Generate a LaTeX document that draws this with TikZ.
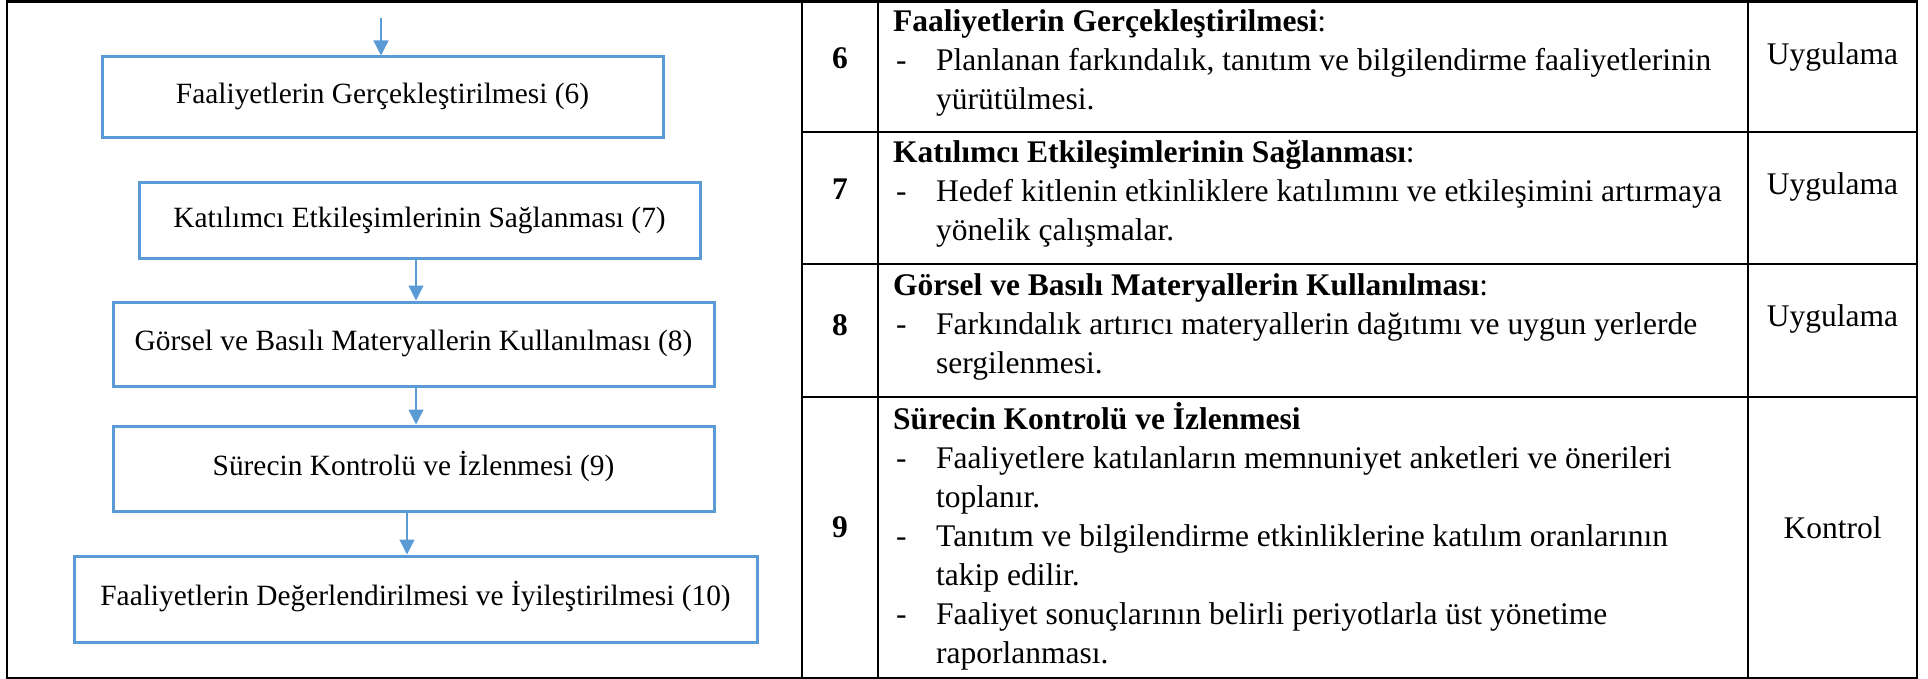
\documentclass[tikz,border=0pt]{standalone}
\usepackage{fontspec}
\setmainfont{Liberation Serif}
\usetikzlibrary{arrows.meta}
\definecolor{boxblue}{RGB}{91,155,213}
\begin{document}
\begin{tikzpicture}[x=1pt,y=-1pt,
  fbox/.style={draw=boxblue, line width=3pt, inner sep=0pt, font=\fontsize{29.4}{34}\selectfont, text height=20pt, text depth=7pt},
  arr/.style={draw=boxblue, line width=1.4pt, -{Triangle[length=15pt,width=15pt]}},
  grid/.style={line width=2.6pt, draw=black},
  tx/.style={anchor=base west, inner sep=0pt, font=\fontsize{31.5}{39}\selectfont},
  num/.style={anchor=base, inner sep=0pt, font=\fontsize{31.5}{39}\selectfont\bfseries},
  typ/.style={anchor=base, inner sep=0pt, font=\fontsize{31.5}{39}\selectfont},
]
\useasboundingbox (0,0) rectangle (1928,679);

% ---------- table frame ----------
\draw[grid] (7,1.3) rectangle (1917,678);
\draw[grid] (802,1.3) -- (802,678);
\draw[grid] (878,1.3) -- (878,678);
\draw[grid] (1748,1.3) -- (1748,678);
\draw[grid] (802,132) -- (1917,132);
\draw[grid] (802,264) -- (1917,264);
\draw[grid] (802,397) -- (1917,397);

% ---------- flowchart ----------
\node[fbox, minimum width=561pt, minimum height=81pt] (b6) at (382.5,97.5) {Faaliyetlerin Gerçekleştirilmesi (6)};
\node[fbox, minimum width=561pt, minimum height=76pt] (b7) at (419.5,221) {Katılımcı Etkileşimlerinin Sağlanması (7)};
\node[fbox, minimum width=601pt, minimum height=84pt] (b8) at (413.5,344) {Görsel ve Basılı Materyallerin Kullanılması (8)};
\node[fbox, minimum width=601pt, minimum height=85pt] (b9) at (413.5,468.5) {Sürecin Kontrolü ve İzlenmesi (9)};
\node[fbox, minimum width=683pt, minimum height=86pt] (b10) at (415.5,599) {Faaliyetlerin Değerlendirilmesi ve İyileştirilmesi (10)};

\coordinate (s0) at (381,18);
\coordinate (xa) at (416,0);
\coordinate (xb) at (407,0);
\draw[arr] (s0) -- (s0 |- b6.north);
\draw[arr] (b7.south -| xa) -- (b8.north -| xa);
\draw[arr] (b8.south -| xa) -- (b9.north -| xa);
\draw[arr] (b9.south -| xb) -- (b10.north -| xb);

% ---------- numbers ----------
\node[num] (n6) at (840,69) {6};
\node[num] (n7) at (840,200) {7};
\node[num] (n8) at (840,335) {8};
\node[num] (n9) at (840,537) {9};

% ---------- type column ----------
\node[typ] (u6) at (1832.5,65) {Uygulama};
\node[typ] (u7) at (1832.5,195) {Uygulama};
\node[typ] (u8) at (1832.5,326) {Uygulama};
\node[typ] (k9) at (1832.5,538) {Kontrol};

% ---------- row 6 ----------
\node[tx] (h6) at (893,32) {\textbf{Faaliyetlerin Gerçekleştirilmesi}:};
\node[tx] (d6a) at (896,71) {-};
\node[tx] (t6a) at (936,71) {Planlanan farkındalık, tanıtım ve bilgilendirme faaliyetlerinin};
\node[tx] (t6b) at (936,110) {yürütülmesi.};

% ---------- row 7 ----------
\node[tx] (h7) at (893,163) {\textbf{Katılımcı Etkileşimlerinin Sağlanması}:};
\node[tx] (d7a) at (896,202) {-};
\node[tx] (t7a) at (936,202) {Hedef kitlenin etkinliklere katılımını ve etkileşimini artırmaya};
\node[tx] (t7b) at (936,241) {yönelik çalışmalar.};

% ---------- row 8 ----------
\node[tx] (h8) at (893,295) {\textbf{Görsel ve Basılı Materyallerin Kullanılması}:};
\node[tx] (d8a) at (896,334) {-};
\node[tx] (t8a) at (936,334) {Farkındalık artırıcı materyallerin dağıtımı ve uygun yerlerde};
\node[tx] (t8b) at (936,373) {sergilenmesi.};

% ---------- row 9 ----------
\node[tx] (h9) at (893,429) {\textbf{Sürecin Kontrolü ve İzlenmesi}};
\node[tx] (d9a) at (896,468) {-};
\node[tx] (t9a) at (936,468) {Faaliyetlere katılanların memnuniyet anketleri ve önerileri};
\node[tx] (t9b) at (936,507) {toplanır.};
\node[tx] (d9b) at (896,546) {-};
\node[tx] (t9c) at (936,546) {Tanıtım ve bilgilendirme etkinliklerine katılım oranlarının};
\node[tx] (t9d) at (936,585) {takip edilir.};
\node[tx] (d9c) at (896,624) {-};
\node[tx] (t9e) at (936,624) {Faaliyet sonuçlarının belirli periyotlarla üst yönetime};
\node[tx] (t9f) at (936,663) {raporlanması.};
\end{tikzpicture}
\end{document}
